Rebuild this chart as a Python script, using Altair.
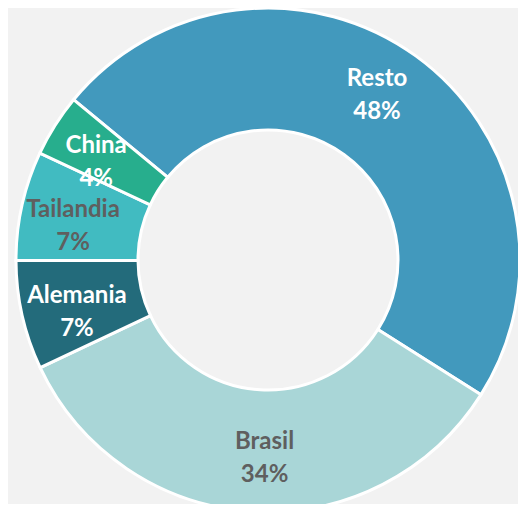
import math
import altair as alt
import pandas as pd

paises = ["Resto", "Brasil", "Alemania", "Tailandia", "China"]
porcentajes = [48, 34, 7, 7, 4]
colores = ["#4299BD", "#A9D6D7", "#236B7B", "#41BBC1", "#27AE8D"]

df = pd.DataFrame({
    "pais": paises,
    "pct": porcentajes,
    "orden": list(range(len(paises))),
})

start = math.radians(309.5)
arc_scale = alt.Scale(range=[start, start + 2 * math.pi])
lbl_start = start - math.radians(2.5)
lbl_scale = alt.Scale(range=[lbl_start, lbl_start + 2 * math.pi])

cx, cy = 260, 252  # donut centre inside the view

arcs = alt.Chart(df).mark_arc(
    outerRadius=252, innerRadius=130, stroke="white", strokeWidth=3
).encode(
    theta=alt.Theta("pct:Q", stack=True, scale=arc_scale),
    order=alt.Order("orden:Q"),
    x=alt.value(cx),
    y=alt.value(cy),
    color=alt.Color("pais:N", scale=alt.Scale(domain=paises, range=colores), legend=None),
)

labels = alt.Chart(df).transform_calculate(
    etiqueta="datum.pais + '\\n' + datum.pct + '%'"
).mark_text(
    radius=198, font="Lato", fontSize=24, fontWeight="bold",
    lineBreak="\n", lineHeight=33, align="center", baseline="middle", dy=-16
).encode(
    theta=alt.Theta("pct:Q", stack=True, scale=lbl_scale),
    order=alt.Order("orden:Q"),
    x=alt.value(cx),
    y=alt.value(cy),
    text="etiqueta:N",
    color=alt.condition(
        alt.FieldOneOfPredicate(field="pais", oneOf=["Brasil", "Tailandia"]),
        alt.value("#5F5F5F"),
        alt.value("white"),
    ),
)

chart = alt.layer(arcs, labels).resolve_scale(theta="independent").properties(
    width=510, height=496, padding=0, autosize=alt.AutoSizeParams(type="none"),
    background="#F2F2F2",
).configure_view(stroke=None)

chart.save("out.html", embed_options={"renderer": "svg", "actions": False})
